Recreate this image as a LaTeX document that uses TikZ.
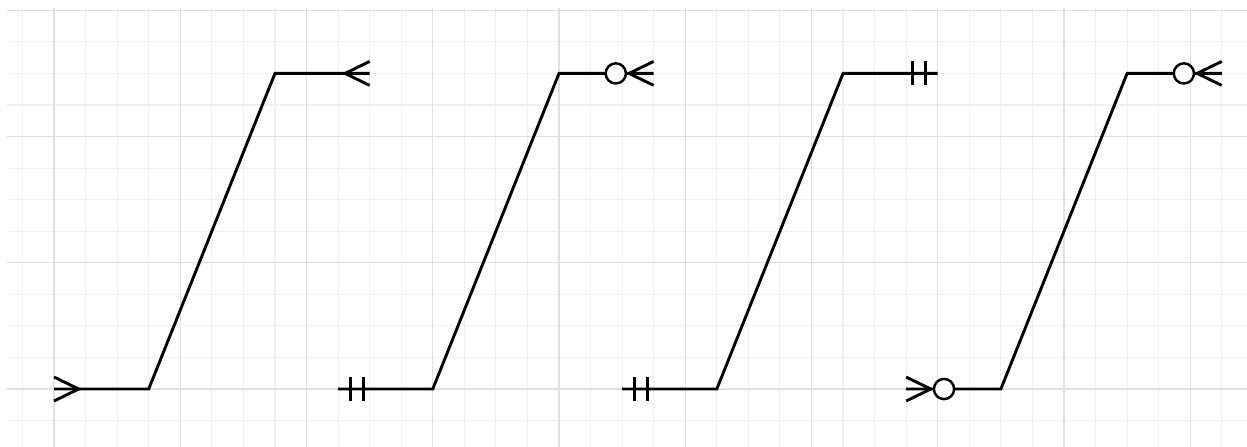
\documentclass[tikz,border=0pt]{standalone}
\usetikzlibrary{calc}

\tikzset{
  conn/.style={draw=black, line width=1.3pt, line join=miter},
  gridminor/.style={draw=gray!12, line width=0.5pt},
  gridmajor/.style={draw=gray!24, line width=0.6pt},
  pics/crow/.style={code={\draw[conn] (0,0.19) -- (-0.39,0) -- (0,-0.19);}},
  pics/bars/.style={code={\draw[conn] (-0.19,0.19) -- (-0.19,-0.19) (-0.40,0.19) -- (-0.40,-0.19);}},
  pics/ring/.style={code={\draw[draw=black, line width=1.1pt, fill=white] (-0.60,0) circle (0.16);}},
}

\begin{document}
\begin{tikzpicture}
  % Marco / Fondo
  \useasboundingbox (-0.856,-0.903) rectangle (18.90,6.163);
  \begin{scope}
    \clip (-0.745,-0.903) rectangle (18.90,6.036);
    \draw[gridminor] (-1,-1) grid[step=0.5] (19,6.5);
    \draw[gridmajor] (-2,-2) grid[step=2] (20,8);
  \end{scope}

  % Conectores
  \foreach \k in {1,...,4}{
    \coordinate (s\k) at ({4.5*(\k-1)},0);
    \coordinate (t\k) at ({4.5*(\k-1)+5},5);
    \draw[conn] (s\k) -- ++(1.5,0) -- ($(t\k)+(-1.5,0)$) -- (t\k);
  }

  % one or many -- many
  \pic[rotate=180] at (s1) {crow};
  \pic at (t1) {crow};

  % one -- zero or many
  \pic[rotate=180] at (s2) {bars};
  \pic at (t2) {crow};
  \pic at (t2) {ring};

  % one -- one
  \pic[rotate=180] at (s3) {bars};
  \pic at (t3) {bars};

  % zero or many -- zero or many
  \pic[rotate=180] at (s4) {crow};
  \pic[rotate=180] at (s4) {ring};
  \pic at (t4) {crow};
  \pic at (t4) {ring};
\end{tikzpicture}
\end{document}
